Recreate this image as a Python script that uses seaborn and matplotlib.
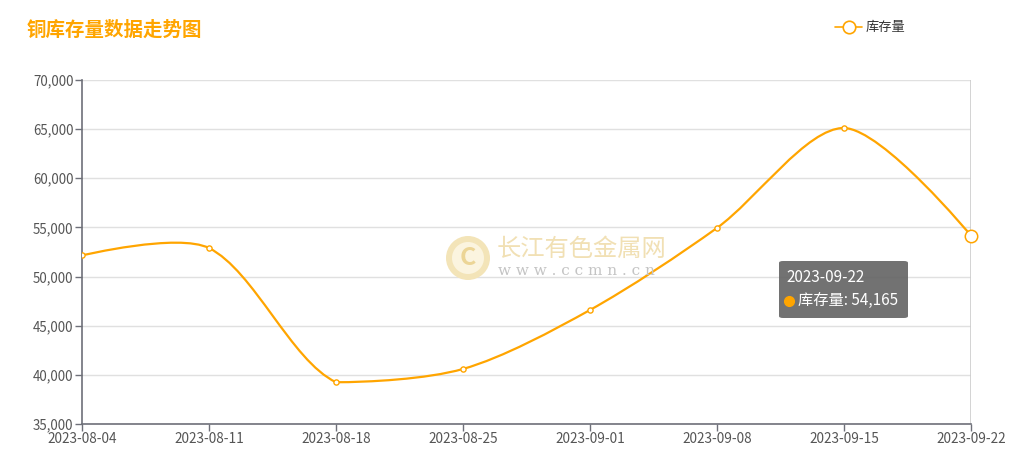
import numpy as np
import matplotlib.pyplot as plt
import seaborn as sns
from matplotlib.path import Path
from matplotlib.patches import PathPatch, FancyBboxPatch, Ellipse

# dados
datas = ['2023-08-04', '2023-08-11', '2023-08-18', '2023-08-25',
         '2023-09-01', '2023-09-08', '2023-09-15', '2023-09-22']
estoque = [52150, 52900, 39250, 40600, 46600, 54950, 65120, 54165]
y_ticks = [35000, 40000, 45000, 50000, 55000, 60000, 65000, 70000]

laranja = '#FFA500'
cinza_txt = '#555555'

sns.set_theme(style='white')
plt.rcParams['font.family'] = ['Noto Sans CJK SC', 'DejaVu Sans']

W, H = 1025, 468
fig = plt.figure(figsize=(W / 100, H / 100), dpi=100)
ax = fig.add_axes([82 / W, 1 - 424 / H, (971 - 82) / W, (424 - 80) / H])

x = np.arange(len(datas))
y = np.array(estoque, dtype=float)

# curva suave (bezier), controles calculados em escala de pixels
sx, sy = 127.0, 9.829 / 1000
px, py = x * sx, y * sy
smooth = 0.3
n = len(x)
lo = np.array([px.min(), py.min()])
hi = np.array([px.max(), py.max()])
pts = np.column_stack([px, py])
c_in = [None] * n
c_out = [None] * n
c_out[0] = pts[0].copy()
c_in[-1] = pts[-1].copy()
for i in range(1, n - 1):
    v = pts[i + 1] - pts[i - 1]
    lp = np.linalg.norm(pts[i] - pts[i - 1])
    ln = np.linalg.norm(pts[i + 1] - pts[i])
    r = ln / (ln + lp)
    c_in[i] = np.clip(pts[i] - v * smooth * (1 - r), lo, hi)
    c_out[i] = np.clip(pts[i] + v * smooth * r, lo, hi)
verts = [(x[0], y[0])]
codes = [Path.MOVETO]
for i in range(n - 1):
    c1, c2 = c_out[i], c_in[i + 1]
    verts += [(c1[0] / sx, c1[1] / sy), (c2[0] / sx, c2[1] / sy), (x[i + 1], y[i + 1])]
    codes += [Path.CURVE4] * 3
ax.add_patch(PathPatch(Path(verts, codes), facecolor='none', edgecolor=laranja,
                       lw=1.6, zorder=3))

sns.scatterplot(x=x[:-1], y=y[:-1], ax=ax, s=14, color='white', edgecolor=laranja,
                linewidth=1, zorder=4)
sns.scatterplot(x=x[-1:], y=y[-1:], ax=ax, s=80, color='white', edgecolor=laranja,
                linewidth=1.1, zorder=4, clip_on=False)

# linha do tooltip
ax.axvline(x[-1], color='#cccccc', lw=1.2, zorder=2)

ax.set_xlim(0, n - 1)
ax.set_ylim(35000, 70000)
ax.set_yticks(y_ticks)
ax.set_yticklabels([f'{v:,}' for v in y_ticks])
ax.set_xticks(x)
ax.set_xticklabels(datas)
ax.grid(axis='y', color='#e0e0e0', lw=1)
for s in ['top', 'right']:
    ax.spines[s].set_visible(False)
for s in ['left', 'bottom']:
    ax.spines[s].set_color('#6e7079')
    ax.spines[s].set_linewidth(1.2)
ax.tick_params(axis='both', which='both', length=5, width=1, color='#6e7079',
               labelcolor=cinza_txt, direction='out', bottom=True, left=True, pad=1)
ax.tick_params(axis='y', labelsize=9.6)
ax.tick_params(axis='x', labelsize=9.8)
ax.set_xlabel('')
ax.set_ylabel('')

# título e legenda
fig.text(27 / W, 1 - 30 / H, '铜库存量数据走势图', color=laranja, fontsize=14,
         fontweight='bold', va='center', ha='left')
fig.lines.append(plt.Line2D([835 / W, 862 / W], [1 - 27 / H] * 2,
                            transform=fig.transFigure, color=laranja, lw=1.2))
fig.lines.append(plt.Line2D([848.5 / W], [1 - 27 / H], transform=fig.transFigure,
                            marker='o', ms=9, mfc='white', mec=laranja, mew=1.2))
fig.text(866 / W, 1 - 27 / H, '库存量', color='#333333', fontsize=9.5, va='center')

# marca d'água
cx, cy = 468 / W, 1 - 258 / H
fig.patches.append(Ellipse((cx, cy), 44 / W, 44 / H, transform=fig.transFigure,
                           facecolor='#f3e4b8', edgecolor='none'))
fig.patches.append(Ellipse((cx, cy), 32 / W, 32 / H, transform=fig.transFigure,
                           facecolor='#fbf4df', edgecolor='none'))
fig.text(cx, cy, 'C', color='#ecd596', fontsize=18, fontweight='bold',
         ha='center', va='center')
fig.text(497 / W, 1 - 249 / H, '长江有色金属网', color='#f1e0b4', fontsize=17.5,
         va='center', ha='left')
fig.text(498 / W, 1 - 271 / H, 'w w w . c c m n . c n', color='#c4c4c4', fontsize=11,
         family='DejaVu Serif', va='center', ha='left')

# tooltip
fig.patches.append(FancyBboxPatch((779 / W, 1 - 318 / H), 129 / W, 57 / H,
                                  boxstyle='round,pad=0,rounding_size=0.004',
                                  transform=fig.transFigure, facecolor='#666666',
                                  edgecolor='none', alpha=0.92, zorder=10))
fig.text(786 / W, 1 - 277 / H, '2023-09-22', color='white', fontsize=11,
         va='center', zorder=11)
fig.lines.append(plt.Line2D([789 / W], [1 - 301 / H], transform=fig.transFigure,
                            marker='o', ms=7, mfc=laranja, mec=laranja, zorder=11))
fig.text(798 / W, 1 - 300 / H, '库存量: 54,165', color='white', fontsize=11,
         va='center', zorder=11)

plt.savefig('out.png', dpi=100)
